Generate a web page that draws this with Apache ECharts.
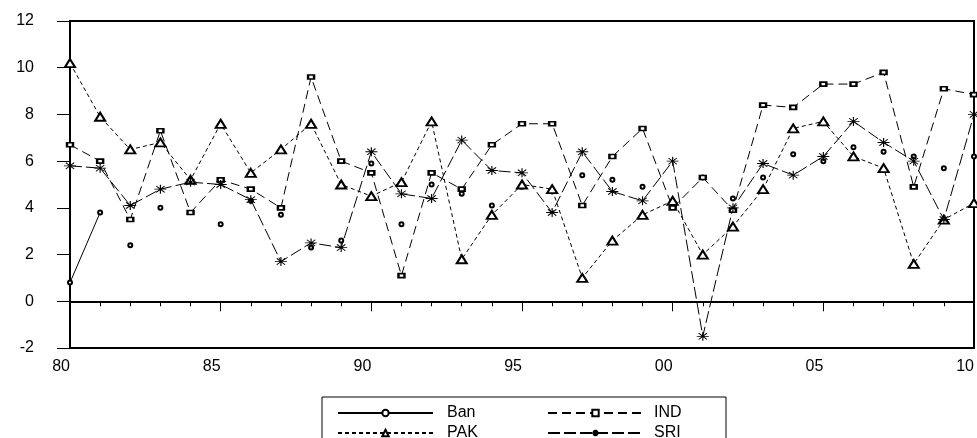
<!DOCTYPE html>
<html>
<head>
<meta charset="utf-8">
<script src="https://cdn.jsdelivr.net/npm/echarts@6/dist/echarts.min.js"></script>
<style>
  html, body { margin: 0; padding: 0; background: #fff; }
  #main { width: 977px; height: 438px; }
</style>
</head>
<body>
<div id="main"></div>
<script>
// years 1980 .. 2010
var years = [1980, 1981, 1982, 1983, 1984, 1985, 1986, 1987, 1988, 1989,
  1990, 1991, 1992, 1993, 1994, 1995, 1996, 1997, 1998, 1999,
  2000, 2001, 2002, 2003, 2004, 2005, 2006, 2007, 2008, 2009, 2010];

var ban = [0.8, 3.8, 2.4, 4.0, 5.2, 3.3, 4.3, 3.7, 2.3, 2.6,
  5.9, 3.3, 5.0, 4.6, 4.1, 4.9, 4.7, 5.4, 5.2, 4.9,
  4.2, 5.3, 4.4, 5.3, 6.3, 6.0, 6.6, 6.4, 6.2, 5.7, 6.2];
var ind = [6.7, 6.0, 3.5, 7.3, 3.8, 5.2, 4.8, 4.0, 9.6, 6.0,
  5.5, 1.1, 5.5, 4.8, 6.7, 7.6, 7.6, 4.1, 6.2, 7.4,
  4.0, 5.3, 3.9, 8.4, 8.3, 9.3, 9.3, 9.8, 4.9, 9.1, 8.85];
var pak = [10.2, 7.9, 6.5, 6.8, 5.2, 7.6, 5.5, 6.5, 7.6, 5.0,
  4.5, 5.1, 7.7, 1.8, 3.7, 5.0, 4.8, 1.0, 2.6, 3.7,
  4.3, 2.0, 3.2, 4.8, 7.4, 7.7, 6.2, 5.7, 1.6, 3.5, 4.2];
var sri = [5.8, 5.7, 4.1, 4.8, 5.1, 5.0, 4.35, 1.7, 2.5, 2.3,
  6.4, 4.6, 4.4, 6.9, 5.6, 5.5, 3.8, 6.4, 4.7, 4.3,
  6.0, -1.5, 4.0, 5.9, 5.4, 6.2, 7.7, 6.8, 6.0, 3.5, 8.0];

// Ban only has a connected line for the first two years, the rest are bare points
var banLineCount = 2;

function pairs(vals) {
  return vals.map(function (v, i) { return [years[i], v]; });
}

var FONT = 'Liberation Sans, Arial, sans-serif';
var star = 'path://M0,5 L10,5 M5,0 L5,10 M1.5,1.5 L8.5,8.5 M8.5,1.5 L1.5,8.5';
var legendText = { color: '#000', fontSize: 16, fontFamily: FONT, lineHeight: 12 };

var myChart = echarts.init(document.getElementById('main'));

myChart.setOption({
  animation: false,
  backgroundColor: '#fff',
  grid: {
    left: 70, top: 21, right: -5, bottom: 90,
    show: true, borderColor: '#000', borderWidth: 2
  },
  xAxis: {
    type: 'value',
    min: 1980, max: 2010, interval: 5,
    axisLine: { lineStyle: { color: '#000', width: 2 } },
    axisTick: { show: true, length: 10, lineStyle: { color: '#000', width: 1 } },
    minorTick: { show: true, splitNumber: 5, length: 5, lineStyle: { color: '#000', width: 1 } },
    splitLine: { show: false },
    axisLabel: {
      color: '#000', fontSize: 16, fontFamily: FONT, margin: 11, align: 'right',
      formatter: function (v) { var s = String(v % 100); return s.length < 2 ? '0' + s : s; }
    }
  },
  yAxis: {
    type: 'value',
    min: -2, max: 12, interval: 2,
    axisLine: { show: true, lineStyle: { color: '#000', width: 2 } },
    axisTick: { show: true, length: 13, lineStyle: { color: '#000', width: 1 } },
    splitLine: { show: false },
    axisLabel: { color: '#000', fontSize: 16, fontFamily: FONT, margin: 36 }
  },
  legend: [{
    data: ['Ban', 'PAK'],
    orient: 'vertical',
    left: 322, top: 397, height: 80,
    padding: [8, 0, 20, 15],
    borderColor: '#000', borderWidth: 1,
    itemWidth: 95, itemHeight: 8, itemGap: 4,
    textStyle: Object.assign({ padding: [0, 0, 0, 9], width: 279 }, legendText)
  }, {
    data: ['IND', 'SRI'],
    orient: 'vertical',
    left: 547, top: 405, height: 80,
    padding: 0,
    itemWidth: 95, itemHeight: 8, itemGap: 4,
    textStyle: Object.assign({ padding: [0, 0, 0, 6] }, legendText)
  }],
  series: [{
    name: 'Ban',
    type: 'line',
    data: pairs(ban).slice(0, banLineCount),
    symbol: 'emptyCircle', symbolSize: 4,
    lineStyle: { color: '#000', width: 1, type: 'solid' },
    itemStyle: { color: '#000', borderWidth: 1 }
  }, {
    name: 'Ban',
    type: 'scatter',
    data: pairs(ban).slice(banLineCount),
    symbol: 'emptyCircle', symbolSize: 4,
    itemStyle: { color: '#000', borderWidth: 1, opacity: 1 }
  }, {
    name: 'IND',
    type: 'line',
    data: pairs(ind),
    symbol: 'emptyRect', symbolSize: [6, 4],
    lineStyle: { color: '#000', width: 1, type: [9, 5] },
    itemStyle: { color: '#000', borderWidth: 1 }
  }, {
    name: 'PAK',
    type: 'line',
    data: pairs(pak),
    symbol: 'emptyTriangle', symbolSize: [10, 8],
    lineStyle: { color: '#000', width: 1, type: [4, 3] },
    itemStyle: { color: '#000', borderWidth: 1 }
  }, {
    name: 'SRI',
    type: 'line',
    data: pairs(sri),
    symbol: star, symbolSize: [12, 9],
    lineStyle: { color: '#000', width: 1, type: [12, 4] },
    itemStyle: { color: '#000', borderColor: '#000', borderWidth: 1 }
  }]
});
</script>
</body>
</html>
